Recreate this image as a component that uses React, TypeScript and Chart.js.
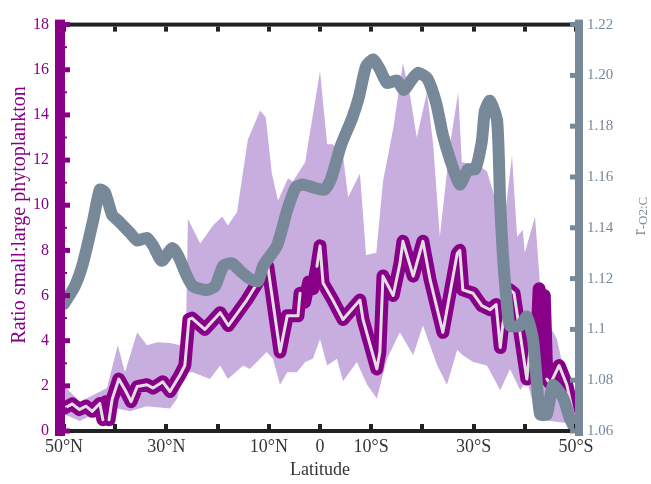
import React, { useEffect, useRef } from 'react';
import { Chart, registerables } from 'chart.js';

Chart.register(...registerables);

// Latitude: negative = North, positive = South
const ratioLat = [
  -50, -48.4, -47, -45.7, -44.5, -43, -42.4, -41.8, -41.2, -40.6, -39.3, -37.9, -36.9, -35.7, -33.8, -32.6,
  -30.7, -29.3, -27.3, -26.4, -25.6, -25.0, -22.5, -19.5, -17.9, -14.3, -10.2, -7.8, -6.4, -4.3, -3.9, -3.0,
  -2.2, -1.4, -0.6, 0, 0.6, 2.5, 4.5, 7.8, 8.4, 11.1, 11.7, 12.3, 14.3, 15.6, 16.2, 18.2, 20.1, 21.5, 24.0,
  26.8, 27.3, 27.9, 29.9, 31.6, 33.2, 34.4, 35.2, 35.7, 37.1, 37.9, 40.4, 41.2, 42.2, 42.8, 43.3, 43.8, 44.3,
  45.0, 46.7, 48.2, 49.4, 50,
];
const ratioMean = [
  1.0, 1.2, 0.95, 1.1, 0.87, 1.22, 0.5, 1.3, 0.5, 1.4, 2.3, 1.75, 1.3, 1.97, 2.05, 1.9,
  2.18, 1.75, 2.5, 2.9, 4.94, 5.0, 4.5, 5.24, 4.67, 5.8, 7.3, 3.5, 5.1, 5.1, 6.1, 5.7,
  6.6, 6.3, 7.3, 8.2, 6.55, 5.8, 4.94, 5.8, 4.94, 2.75, 3.5, 6.86, 6.0, 7.4, 8.4, 6.86, 8.4, 6.7, 4.37,
  7.86, 8.0, 6.25, 6.1, 5.55, 5.37, 5.6, 3.7, 4.7, 6.25, 6.1, 2.3, 4.0, 3.0, 6.3, 2.5, 6.0, 2.3,
  2.1, 2.9, 2.05, 0.8, 0.6,
];
// stretches where the dotted centre line is not visible (dense blobs)
const hiddenCentreRanges = [[-42.6, -40.8], [-4.0, -0.3], [41.5, 44.6]];

const bandUpperLat = [
  -50, -46.9, -44.3, -41.6, -39.5, -38.1, -35.7, -33.8, -31.8, -29.3, -27.3, -26.2, -25.8, -23.4, -20.9, -19.1,
  -18.0, -16.2, -14.1, -11.7, -10.6, -9.4, -8.2, -6.25, -5.3, -2.9, 0, 1.4, 2.5, 4.5, 5.5, 7.8, 9.0, 11.0,
  12.3, 14.3, 16.2, 17.6, 18.9, 20.9, 22.1, 23.4, 25.4, 27.0, 27.7, 30.7, 32.6, 34.6, 36.1, 37.5, 38.5, 39.6,
  40.0, 42.0, 43.0, 44.3, 46.3, 48.2, 50,
];
const bandUpper = [
  2.0, 1.3, 1.6, 1.9, 3.8, 2.6, 4.37, 3.8, 3.93, 3.9, 3.8, 4.2, 9.4, 8.3, 9.1, 9.5,
  9.1, 9.7, 12.9, 14.2, 13.9, 11.4, 10.2, 11.2, 11.05, 11.9, 15.95, 12.7, 12.7, 12.2, 10.35, 11.4, 7.8, 7.9,
  11.05, 13.4, 16.3, 14.85, 13.0, 15.0, 12.7, 8.6, 12.7, 15.0, 11.9, 11.8, 11.5, 10.0, 9.5, 12.2, 8.6, 8.9,
  7.9, 9.5, 6.4, 4.9, 4.06, 2.05, 0.6,
];
const bandLowerLat = [
  -50, -46.9, -44.3, -42.4, -39.6, -37.1, -33.8, -29.3, -27.9, -26.8, -24.8, -21.5, -19.5, -18.0, -15.0, -13.7,
  -10.4, -9.2, -7.8, -6.4, -4.5, -2.9, -1.4, 0, 1.4, 3.3, 4.5, 7.2, 9.2, 11.1, 13.1, 15.6, 18.2, 20.1, 22.9,
  24.8, 26.8, 27.9, 29.9, 32.6, 35.2, 37.1, 39.1, 40.4, 41.6, 43.0, 50,
];
const bandLower = [
  0.74, 0.44, 0.74, 0.45, 1.0, 0.87, 1.1, 1.0, 1.44, 2.6, 2.6, 2.3, 2.9, 2.3, 2.9, 2.75,
  3.5, 3.2, 2.05, 2.6, 2.6, 3.06, 3.2, 4.06, 2.9, 3.2, 2.2, 3.06, 2.05, 1.44, 3.2, 4.37, 3.36, 4.67, 2.9,
  2.05, 3.6, 3.36, 3.06, 2.9, 1.8, 2.75, 1.8, 2.3, 1.2, 0.5, 0.3,
];

const rLat = [
  -50, -47.9, -46.3, -44.3, -43.0, -42.0, -40.6, -39.5, -37.1, -35.7, -33.8, -32.6, -30.9, -28.9, -27.7, -26.0,
  -24.8, -22.1, -20.5, -18.9, -17.2, -15.6, -13.7, -12.1, -11.1, -8.4, -6.4, -4.7, -3.3, 0.8, 2.1, 4.1, 6.25,
  7.6, 9.0, 10.4, 11.7, 13.1, 15.0, 16.4, 17.8, 19.1, 20.9, 22.7, 24.0, 25.4, 27.3, 28.9, 30.3, 31.6, 32.2,
  33.2, 34.6, 35.2, 35.7, 36.5, 37.1, 39.1, 40.4, 41.6, 42.4, 43.0, 44.3, 45.5, 47.5, 48.8, 50,
];
const rO2C = [
  1.110, 1.117, 1.126, 1.143, 1.155, 1.154, 1.145, 1.143, 1.138, 1.135, 1.136, 1.133, 1.127, 1.132, 1.129, 1.121,
  1.117, 1.1155, 1.117, 1.125, 1.126, 1.123, 1.120, 1.119, 1.125, 1.133, 1.147, 1.156, 1.157, 1.155, 1.159, 1.1725, 1.183,
  1.1915, 1.2036, 1.2063, 1.2024, 1.197, 1.198, 1.1943, 1.198, 1.201, 1.199, 1.189, 1.1765, 1.167, 1.157, 1.163, 1.163, 1.174, 1.186,
  1.190, 1.182, 1.149, 1.130, 1.110, 1.1015, 1.1015, 1.105, 1.096, 1.078, 1.0666, 1.0666, 1.078, 1.073, 1.065, 1.06,
];

const latTicks = [-50, -40, -30, -20, -10, 0, 10, 20, 30, 40, 50];
const latLabelValues = [-50, -30, -10, 0, 10, 30, 50];
const latLabels = ['50°N', '30°N', '10°N', '0', '10°S', '30°S', '50°S'];
const leftTickValues = [0, 2, 4, 6, 8, 10, 12, 14, 16, 18];
const leftMinorValues = [1, 3, 5, 7, 9, 11, 13, 15, 17];
const rightTickValues = [1.06, 1.08, 1.1, 1.12, 1.14, 1.16, 1.18, 1.2, 1.22];
const rightTickLabels = ['1.06', '1.08', '1.1', '1.12', '1.14', '1.16', '1.18', '1.20', '1.22'];

const xTitle = 'Latitude';
const yTitle = 'Ratio small:large phytoplankton';
const y1TitleMain = 'r';
const y1TitleSub = '-O2:C';

const PURPLE = '#880088';
const GRAY = '#778899';
const BAND = '#c8addf';
const CENTRE = '#e2dee2';
const FONT = '"Liberation Serif", "Times New Roman", serif';

const pts = (xs: number[], ys: number[]) => xs.map((x, i) => ({ x, y: ys[i] }));

const inHidden = (a: number, b: number) =>
  hiddenCentreRanges.some(([lo, hi]) => a >= lo && b <= hi);

const decoPlugin = {
  id: 'deco',
  afterDraw(chart: any) {
    const { ctx, chartArea } = chart;
    const { left, right, top, bottom } = chartArea;
    const x = chart.scales.x;
    const y = chart.scales.y;
    const y1 = chart.scales.y1;
    ctx.save();
    // top and bottom frame
    ctx.fillStyle = '#222222';
    ctx.fillRect(left, top - 2, right - left, 4);
    ctx.fillRect(left, bottom - 2, right - left, 4);
    latTicks.forEach((v) => {
      const px = Math.round(x.getPixelForValue(v));
      ctx.fillRect(px - 2, top + 2, 4, 5);
      ctx.fillRect(px - 2, bottom - 7, 4, 5);
    });
    // left axis
    ctx.fillStyle = PURPLE;
    ctx.fillRect(left - 9, top - 5, 10, bottom - top + 10);
    leftTickValues.forEach((v) => {
      const py = y.getPixelForValue(v);
      ctx.fillRect(left + 1, py - 2.5, 5, 5);
    });
    leftMinorValues.forEach((v) => {
      const py = y.getPixelForValue(v);
      ctx.fillRect(left + 1, py - 1, 2, 2);
    });
    // right axis
    ctx.fillStyle = GRAY;
    ctx.fillRect(right - 1, top - 5, 8, bottom - top + 10);
    rightTickValues.forEach((v) => {
      const py = y1.getPixelForValue(v);
      ctx.fillRect(right - 6, py - 2.5, 5, 5);
    });
    // left title
    ctx.save();
    ctx.translate(20, 215);
    ctx.rotate(-Math.PI / 2);
    ctx.font = `20px ${FONT}`;
    ctx.fillStyle = PURPLE;
    ctx.textAlign = 'center';
    ctx.textBaseline = 'middle';
    ctx.fillText(yTitle, 0, 0);
    ctx.restore();
    // right title
    ctx.save();
    ctx.translate(641, 216);
    ctx.rotate(-Math.PI / 2);
    ctx.fillStyle = GRAY;
    ctx.textAlign = 'left';
    ctx.textBaseline = 'alphabetic';
    ctx.font = `18px ${FONT}`;
    const wr = ctx.measureText(y1TitleMain).width;
    ctx.font = `13px ${FONT}`;
    const ws = ctx.measureText(y1TitleSub).width;
    const start = -(wr + ws) / 2;
    ctx.font = `18px ${FONT}`;
    ctx.fillText(y1TitleMain, start, 4);
    ctx.font = `13px ${FONT}`;
    ctx.fillText(y1TitleSub, start + wr, 6);
    ctx.restore();
    ctx.restore();
  },
};

export default function App() {
  const ref = useRef<HTMLCanvasElement>(null);
  useEffect(() => {
    if (!ref.current) return;
    const chart = new Chart(ref.current, {
      type: 'line',
      data: {
        datasets: [
          {
            label: 'r O2:C',
            data: pts(rLat, rO2C),
            yAxisID: 'y1',
            borderColor: GRAY,
            borderWidth: 12,
            borderCapStyle: 'round',
            borderJoinStyle: 'round',
            pointRadius: 0,
            tension: 0.2,
            fill: false,
            order: 0,
          },
          {
            label: 'ratio centre',
            data: pts(ratioLat, ratioMean),
            yAxisID: 'y',
            borderColor: CENTRE,
            borderWidth: 3,
            borderCapStyle: 'round',
            borderJoinStyle: 'round',
            pointRadius: 0,
            tension: 0,
            fill: false,
            order: 1,
            segment: {
              borderColor: (c: any) => (inHidden(c.p0.parsed.x, c.p1.parsed.x) ? 'rgba(0,0,0,0)' : CENTRE),
            },
          },
          {
            label: 'ratio',
            data: pts(ratioLat, ratioMean),
            yAxisID: 'y',
            borderColor: PURPLE,
            borderWidth: 13,
            borderCapStyle: 'round',
            borderJoinStyle: 'round',
            pointRadius: 0,
            tension: 0,
            fill: false,
            order: 2,
          },
          {
            label: 'upper',
            data: pts(bandUpperLat, bandUpper),
            yAxisID: 'y',
            borderColor: 'rgba(0,0,0,0)',
            borderWidth: 0,
            backgroundColor: BAND,
            pointRadius: 0,
            tension: 0,
            fill: '+1',
            order: 3,
          },
          {
            label: 'lower',
            data: pts(bandLowerLat, bandLower),
            yAxisID: 'y',
            borderColor: 'rgba(0,0,0,0)',
            borderWidth: 0,
            pointRadius: 0,
            tension: 0,
            fill: false,
            order: 4,
          },
        ],
      },
      options: {
        animation: false,
        responsive: false,
        events: [],
        layout: { padding: { top: 20, left: 0, right: 0, bottom: 0 } },
        plugins: { legend: { display: false }, tooltip: { enabled: false } },
        scales: {
          x: {
            type: 'linear',
            min: -50,
            max: 50,
            afterBuildTicks: (s: any) => {
              s.ticks = latLabelValues.map((v) => ({ value: v }));
            },
            afterFit: (s: any) => {
              s.height = 53;
            },
            grid: { display: false, drawTicks: false },
            border: { display: false },
            ticks: {
              autoSkip: false,
              maxRotation: 0,
              padding: 5,
              color: '#333333',
              font: { family: FONT, size: 18 },
              callback: (v: any) => {
                const i = latLabelValues.indexOf(Number(v));
                return i >= 0 ? latLabels[i] : '';
              },
            },
            title: {
              display: true,
              text: xTitle,
              color: '#333333',
              font: { family: FONT, size: 18 },
              padding: { top: 0, bottom: 3 },
            },
          },
          y: {
            position: 'left',
            min: 0,
            max: 18,
            afterBuildTicks: (s: any) => {
              s.ticks = leftTickValues.map((v) => ({ value: v }));
            },
            afterFit: (s: any) => {
              s.width = 64;
            },
            grid: { display: false, drawTicks: false },
            border: { display: false },
            ticks: {
              padding: 15,
              color: PURPLE,
              font: { family: FONT, size: 16 },
            },
          },
          y1: {
            position: 'right',
            min: 1.06,
            max: 1.22,
            afterBuildTicks: (s: any) => {
              s.ticks = rightTickValues.map((v) => ({ value: v }));
            },
            afterFit: (s: any) => {
              s.width = 75;
            },
            grid: { display: false, drawTicks: false },
            border: { display: false },
            ticks: {
              padding: 11,
              color: GRAY,
              font: { family: FONT, size: 15 },
              callback: (v: any) => {
                const i = rightTickValues.findIndex((t) => Math.abs(t - Number(v)) < 1e-6);
                return i >= 0 ? rightTickLabels[i] : '';
              },
            },
          },
        },
      },
      plugins: [decoPlugin],
    } as any);
    return () => chart.destroy();
  }, []);
  return (
    <div style={{ position: 'absolute', left: 0, top: 0, width: 651, height: 484, background: '#ffffff' }}>
      <canvas ref={ref} width={651} height={484} style={{ display: 'block' }} />
    </div>
  );
}
